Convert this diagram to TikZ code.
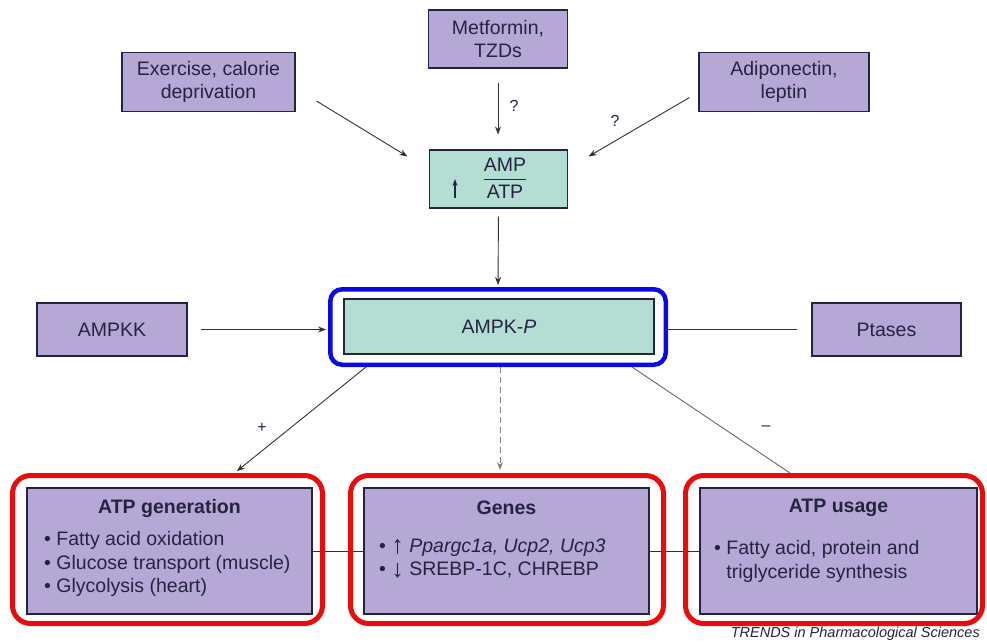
\documentclass[tikz,border=0pt]{standalone}
\usepackage{fontspec}
\setmainfont{Liberation Sans}
\usetikzlibrary{arrows.meta}
\definecolor{lav}{RGB}{181,168,214}
\definecolor{tealf}{RGB}{180,222,212}
\definecolor{ink}{RGB}{36,36,64}
\definecolor{edgec}{RGB}{50,50,50}
\definecolor{bblue}{RGB}{10,10,225}
\definecolor{rred}{RGB}{232,12,12}
\newcommand{\bigup}{\raisebox{-1.5pt}{\fontsize{25}{25}\selectfont ↑}}
\newcommand{\bigdown}{\raisebox{-1.5pt}{\fontsize{25}{25}\selectfont ↓}}
\begin{document}
\begin{tikzpicture}[x=1pt,y=-1pt,
  every node/.style={text=ink, font=\fontsize{19.5}{23.5}\selectfont, inner sep=0pt},
  pbox/.style 2 args={draw=ink, line width=1.1pt, fill=lav, minimum width=#1, minimum height=#2},
  tbox/.style 2 args={draw=ink, line width=1.1pt, fill=tealf, minimum width=#1, minimum height=#2},
  redring/.style 2 args={draw=rred, line width=5pt, rounded corners=18pt, minimum width=#1, minimum height=#2},
  conn/.style={draw=edgec, line width=0.9pt},
  arr/.style={conn, -{Stealth[length=8pt,width=6pt]}},
  small/.style={font=\fontsize{16}{18}\selectfont},
]
\fill[white] (0,0) rectangle (987,643);
\useasboundingbox (0,0) rectangle (987,643);

% top boxes
\node[pbox={173}{59}, align=center] (exer) at (208.5,82) {Exercise, calorie\\deprivation};
\node[pbox={139}{58}, align=center] (metf) at (498,39) {Metformin,\\TZDs};
\node[pbox={170}{59}, align=center] (adipo) at (784,82) {Adiponectin,\\leptin};

% AMP/ATP
\node[tbox={138}{58}] (ampatp) at (498.5,179) {};
\node (amp) at (505,165) {AMP};
\node (atp) at (505,192) {ATP};
\draw[ink, line width=1pt] (amp.west |- ampatp.center) -- (amp.east |- ampatp.center);
\draw[ink, line width=1.1pt, -{Stealth[length=7pt,width=5pt]}] ([xshift=-43.5pt,yshift=-19pt]ampatp.center) -- ([xshift=-43.5pt,yshift=0pt]ampatp.center);

% AMPK row
\node[pbox={150}{53}] (ampkk) at (112,329.5) {AMPKK};
\node[pbox={149}{53}] (ptases) at (886.5,329.5) {Ptases};
\node[tbox={310}{55}] (ampk) at (499,326.5) {AMPK-\textit{P}};
\node[draw=bblue, line width=4.5pt, rounded corners=12pt, minimum width=335.5, minimum height=75.5] (ampkring) at (498,327) {};

% bottom boxes
\node[pbox={285}{126}] (gen) at (169.5,551) {};
\node[pbox={285}{126}] (genes) at (506.5,551) {};
\node[pbox={277}{126}] (usage) at (838.5,551) {};
\draw[conn] (gen.east) -- (genes.west);
\draw[conn] (genes.east) -- (usage.west);
\node[redring={310}{148}] (genred) at (167.5,549.5) {};
\node[redring={313}{148}] (genesred) at (507,549.5) {};
\node[redring={297}{148}] (usagered) at (834,549.5) {};

\node[font=\fontsize{19.5}{23.5}\selectfont\bfseries] (gent) at (169.5,508) {ATP generation};
\node[anchor=west, align=left] (genl) at (44,564) {• Fatty acid oxidation\\• Glucose transport (muscle)\\• Glycolysis (heart)};
\node[font=\fontsize{19.5}{23.5}\selectfont\bfseries] (genest) at (506.5,508) {Genes};
\node[anchor=west, align=left] (genesl) at (379,558.5) {• \bigup\ \textit{Ppargc1a, Ucp2, Ucp3}\\• \bigdown\ SREBP-1C, CHREBP};
\node[font=\fontsize{19.5}{23.5}\selectfont\bfseries] (usaget) at (838.5,508) {ATP usage};
\node[anchor=west, align=left] (usagel) at (714,561.5) {• Fatty acid, protein and\\\phantom{• }triglyceride synthesis};

\node[anchor=east, font=\fontsize{14.5}{17}\selectfont\itshape] (trends) at (980,634) {TRENDS in Pharmacological Sciences};

% connectors
\draw[arr] ([xshift=21pt,yshift=11pt]exer.south east) -- ([xshift=-21.5pt,yshift=-7pt]ampatp.north west);
\draw[arr] ([xshift=-9pt,yshift=14.5pt]adipo.south west) -- ([xshift=20.5pt,yshift=-7pt]ampatp.north east);
\draw[arr, shorten <=14pt, shorten >=15pt] (metf.south) -- (metf.south |- ampatp.north);
\draw[arr, shorten <=8pt, shorten >=2pt] (ampatp.south) -- (ampkring.north);
\draw[arr, shorten <=13pt, shorten >=2pt] (ampkk.east) -- (ampkring.west |- ampkk.east);
\draw[conn, shorten >=14pt] (ampkring.east |- ptases.west) -- (ptases.west);
\draw[arr, shorten >=3pt] ([xshift=38pt]ampkring.south west) -- ([xshift=67pt]genred.north);
\draw[arr, draw=gray, dashed, dash pattern=on 6pt off 4pt, shorten >=3pt] ([xshift=2pt]ampkring.south) -- ([xshift=-7pt]genesred.north);
\draw[conn, draw=gray!80!black] ([xshift=-36pt]ampkring.south east) -- ([xshift=-44pt]usagered.north);

% labels
\node[small] (q1) at (514,106) {?};
\node[small] (q2) at (615,121) {?};
\node[small] (plus) at (262,428) {+};
\node[small] (minus) at (766,428) {–};
\end{tikzpicture}
\end{document}
